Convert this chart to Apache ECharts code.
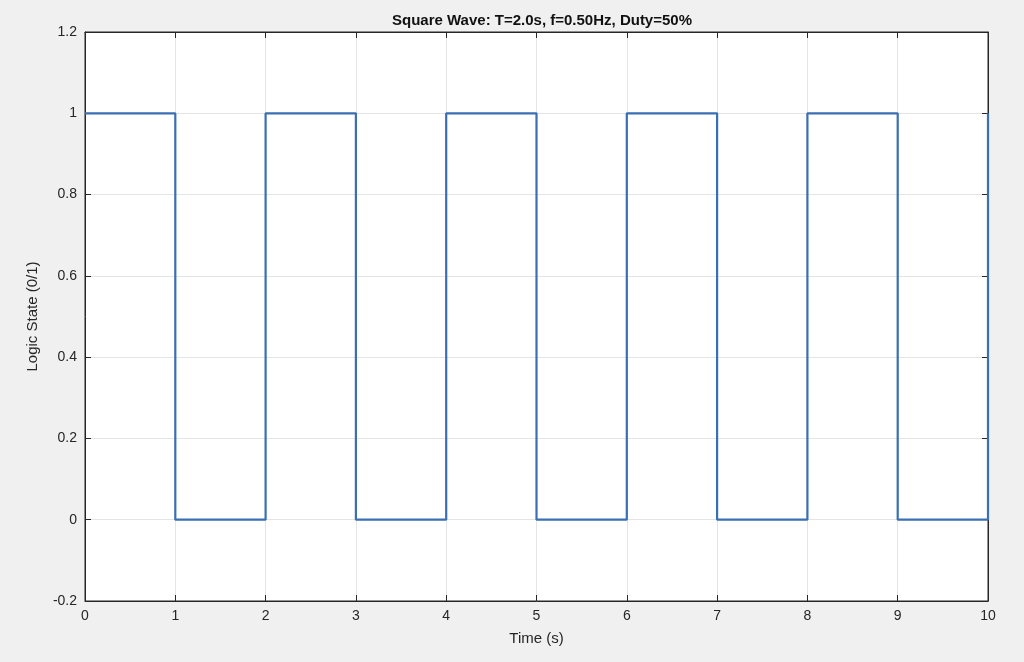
<!DOCTYPE html>
<html><head><meta charset="utf-8">
<script src="https://cdn.jsdelivr.net/npm/echarts@6/dist/echarts.min.js"></script>
<style>html,body{margin:0;padding:0;background:#f0f0f0}#c{width:1024px;height:662px}</style>
</head><body><div id="c"></div>
<script>
const titleText = 'Square Wave: T=2.0s, f=0.50Hz, Duty=50%';
const timePoints = [0,1,1,2,2,3,3,4,4,5,5,6,6,7,7,8,8,9,9,10,10];
const stateValues = [1,1,0,0,1,1,0,0,1,1,0,0,1,1,0,0,1,1,0,0,1];
const data = timePoints.map((t,i)=>[t,stateValues[i]]);
const chart = echarts.init(document.getElementById('c'));
const font = 'Helvetica, Arial, "Liberation Sans", sans-serif';
const ax = (o)=>Object.assign({
  axisLine:{show:true,onZero:false,lineStyle:{color:'#262626',width:1}},
  axisTick:{show:true,inside:true,length:6,lineStyle:{color:'#262626'}},
  axisLabel:{color:'#262626',fontSize:14,fontFamily:font},
  splitLine:{show:true,lineStyle:{color:'#e4e4e4',width:1}}
},o);
chart.setOption({
  backgroundColor:'#f0f0f0',
  animation:false,
  title:{text:titleText,left:537,top:8,textAlign:'center',textStyle:{fontSize:15,fontWeight:'bold',color:'#111',fontFamily:font}},
  grid:{left:85,right:36,top:32,bottom:61,show:true,backgroundColor:'#fff',borderColor:'#262626',borderWidth:1},
  xAxis:[ax({type:'value',min:0,max:10,interval:1,name:'Time (s)',nameLocation:'middle',nameGap:30,nameTextStyle:{fontSize:15,color:'#262626',fontFamily:font}}),
    ax({type:'value',position:'top',min:0,max:10,interval:1,axisLabel:{show:false},splitLine:{show:false}})],
  yAxis:[ax({type:'value',min:-0.2,max:1.2,interval:0.2,axisLabel:{color:'#262626',fontSize:14,fontFamily:font,formatter:v=>{v=Math.round(v*10)/10;return String(v);}},name:'Logic State (0/1)',nameLocation:'middle',nameGap:45,nameTextStyle:{fontSize:15,color:'#262626',fontFamily:font}}),
    ax({type:'value',position:'right',min:-0.2,max:1.2,interval:0.2,axisLabel:{show:false},splitLine:{show:false}})],
  series:[{type:'line',data:data,showSymbol:false,lineStyle:{color:'#3a6fb3',width:2.2},clip:false}]
});
</script></body></html>
